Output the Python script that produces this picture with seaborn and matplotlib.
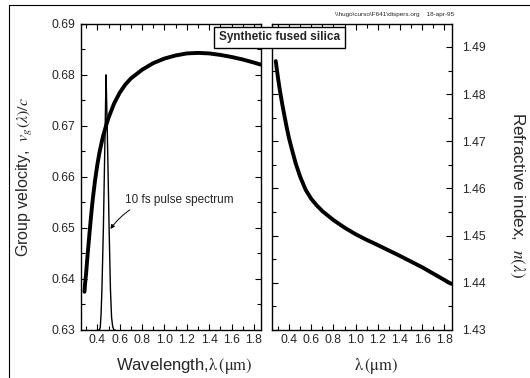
import numpy as np
import pandas as pd
import seaborn as sns
import matplotlib
import matplotlib.pyplot as plt
from matplotlib.ticker import MultipleLocator, FormatStrFormatter
from matplotlib.lines import Line2D

# group velocity v_g/c vs wavelength (um)
wl_vg = [0.285, 0.29, 0.30, 0.31, 0.32, 0.33, 0.34, 0.35, 0.36, 0.38, 0.40, 0.42, 0.45, 0.48, 0.50, 0.55,
         0.60, 0.65, 0.70, 0.80, 0.90, 1.00, 1.10, 1.20, 1.30, 1.40, 1.50, 1.60, 1.70, 1.80, 1.86]
vg = [0.6375, 0.6390, 0.6412, 0.6440, 0.6465, 0.6490, 0.6514, 0.6537, 0.6558, 0.6594, 0.6624, 0.6649, 0.6679, 0.6702, 0.6716, 0.6744,
      0.6765, 0.6781, 0.6793, 0.6810, 0.6823, 0.6832, 0.6838, 0.6842, 0.6843, 0.6842, 0.6839, 0.6835, 0.6830, 0.6824, 0.6820]

# 10 fs pulse spectrum (drawn on the v_g axis)
wl_sp = [0.40, 0.418, 0.426, 0.433, 0.441, 0.454, 0.466, 0.478, 0.484, 0.495, 0.505, 0.517, 0.527, 0.537, 0.548, 0.56]
spec = [0.630, 0.630, 0.6305, 0.633, 0.638, 0.650, 0.665, 0.680, 0.674, 0.662, 0.650, 0.638, 0.6325, 0.6307, 0.630, 0.630]

# refractive index n vs wavelength
wl_n = [0.28, 0.29, 0.30, 0.31, 0.32, 0.34, 0.36, 0.38, 0.40, 0.43, 0.46, 0.50, 0.55, 0.60, 0.65, 0.70,
        0.80, 0.90, 1.00, 1.10, 1.20, 1.40, 1.60, 1.86]
n_idx = [1.4870, 1.4852, 1.4835, 1.4819, 1.4804, 1.4777, 1.4752, 1.4728, 1.4706, 1.4679, 1.4653, 1.4625, 1.4597, 1.4578, 1.4564, 1.4552,
         1.4533, 1.4517, 1.4503, 1.4491, 1.4480, 1.4457, 1.4433, 1.4398]

sns.set_style("ticks")
plt.rcParams['font.family'] = ['Liberation Sans', 'DejaVu Sans']
plt.rcParams['mathtext.fontset'] = 'stix'

fig = plt.figure(figsize=(5.3, 3.78), dpi=100)
ax1 = fig.add_axes([0.152, 0.127, 0.341, 0.81])
ax2 = fig.add_axes([0.514, 0.127, 0.338, 0.81])

sns.lineplot(x=wl_vg, y=vg, ax=ax1, color='black', linewidth=2.8)
sns.lineplot(x=wl_sp, y=spec, ax=ax1, color='black', linewidth=1.0)
sns.lineplot(x=wl_n, y=n_idx, ax=ax2, color='black', linewidth=2.8)

ax1.set_ylim(0.63, 0.69)
ax2.set_ylim(1.43, 1.4949)
for ax in (ax1, ax2):
    ax.set_xlim(0.25, 1.865)
    ax.xaxis.set_major_locator(MultipleLocator(0.2))
    ax.xaxis.set_minor_locator(MultipleLocator(0.1))
    ax.xaxis.set_major_formatter(FormatStrFormatter('%.1f'))
    ax.yaxis.set_major_locator(MultipleLocator(0.01))
    ax.yaxis.set_minor_locator(MultipleLocator(0.005))
    ax.yaxis.set_major_formatter(FormatStrFormatter('%.2f'))
    ax.tick_params(which='both', direction='in', top=True, right=True, bottom=True, left=True,
                   labelsize=8.8, width=0.8, color='black', pad=3)
    ax.tick_params(which='major', length=4)
    ax.tick_params(which='minor', length=3)
    for s in ax.spines.values():
        s.set_linewidth(1.0)
        s.set_color('black')

ax2.tick_params(which='both', labelleft=False, labelright=True)
ax1.tick_params(axis='y', pad=4)
ax2.tick_params(axis='y', pad=7.5)

ax1.set_ylabel(r'Group velocity,  $v_g(\lambda)/c$', fontsize=11.5)
ax1.yaxis.set_label_coords(-0.25, 0.5)
ax1.set_xlabel(r'Wavelength,$\mathrm{\lambda\,(\mu m)}$', fontsize=12)
ax1.xaxis.set_label_coords(0.575, -0.085)
ax2.set_xlabel(r'$\mathrm{\lambda\,(\mu m)}$', fontsize=12)
ax2.xaxis.set_label_coords(0.58, -0.085)
ax2.yaxis.set_label_position('right')
ax2.set_ylabel(r'Refractive index,  $n(\lambda)$', fontsize=12.3, rotation=270)
ax2.yaxis.set_label_coords(1.415, 0.44)

ax1.annotate('10 fs pulse spectrum', xy=(0.517, 0.6498), xytext=(0.65, 0.6555),
             fontsize=8.5, va='center', ha='left',
             arrowprops=dict(arrowstyle='-|>', color='black', lw=0.7, mutation_scale=6,
                             connectionstyle='arc3,rad=0.3', shrinkA=1, shrinkB=0))

fig.text(0.527, 0.901, 'Synthetic fused silica', fontsize=8.5, fontweight='bold', ha='center', va='center',
         bbox=dict(boxstyle='square,pad=0.4', facecolor='white', edgecolor='black', linewidth=1.0))
fig.text(0.744, 0.962, r'\\hugo\curso\F641\dispers.org    18-apr-95', fontsize=4.6, ha='center', va='center')

# outer frame (top and left edges)
fig.add_artist(Line2D([0.017, 1.0], [0.987, 0.987], color='black', lw=0.8, transform=fig.transFigure))
fig.add_artist(Line2D([0.017, 0.017], [0.0, 0.987], color='black', lw=0.8, transform=fig.transFigure))

plt.savefig('out.png', dpi=100)
